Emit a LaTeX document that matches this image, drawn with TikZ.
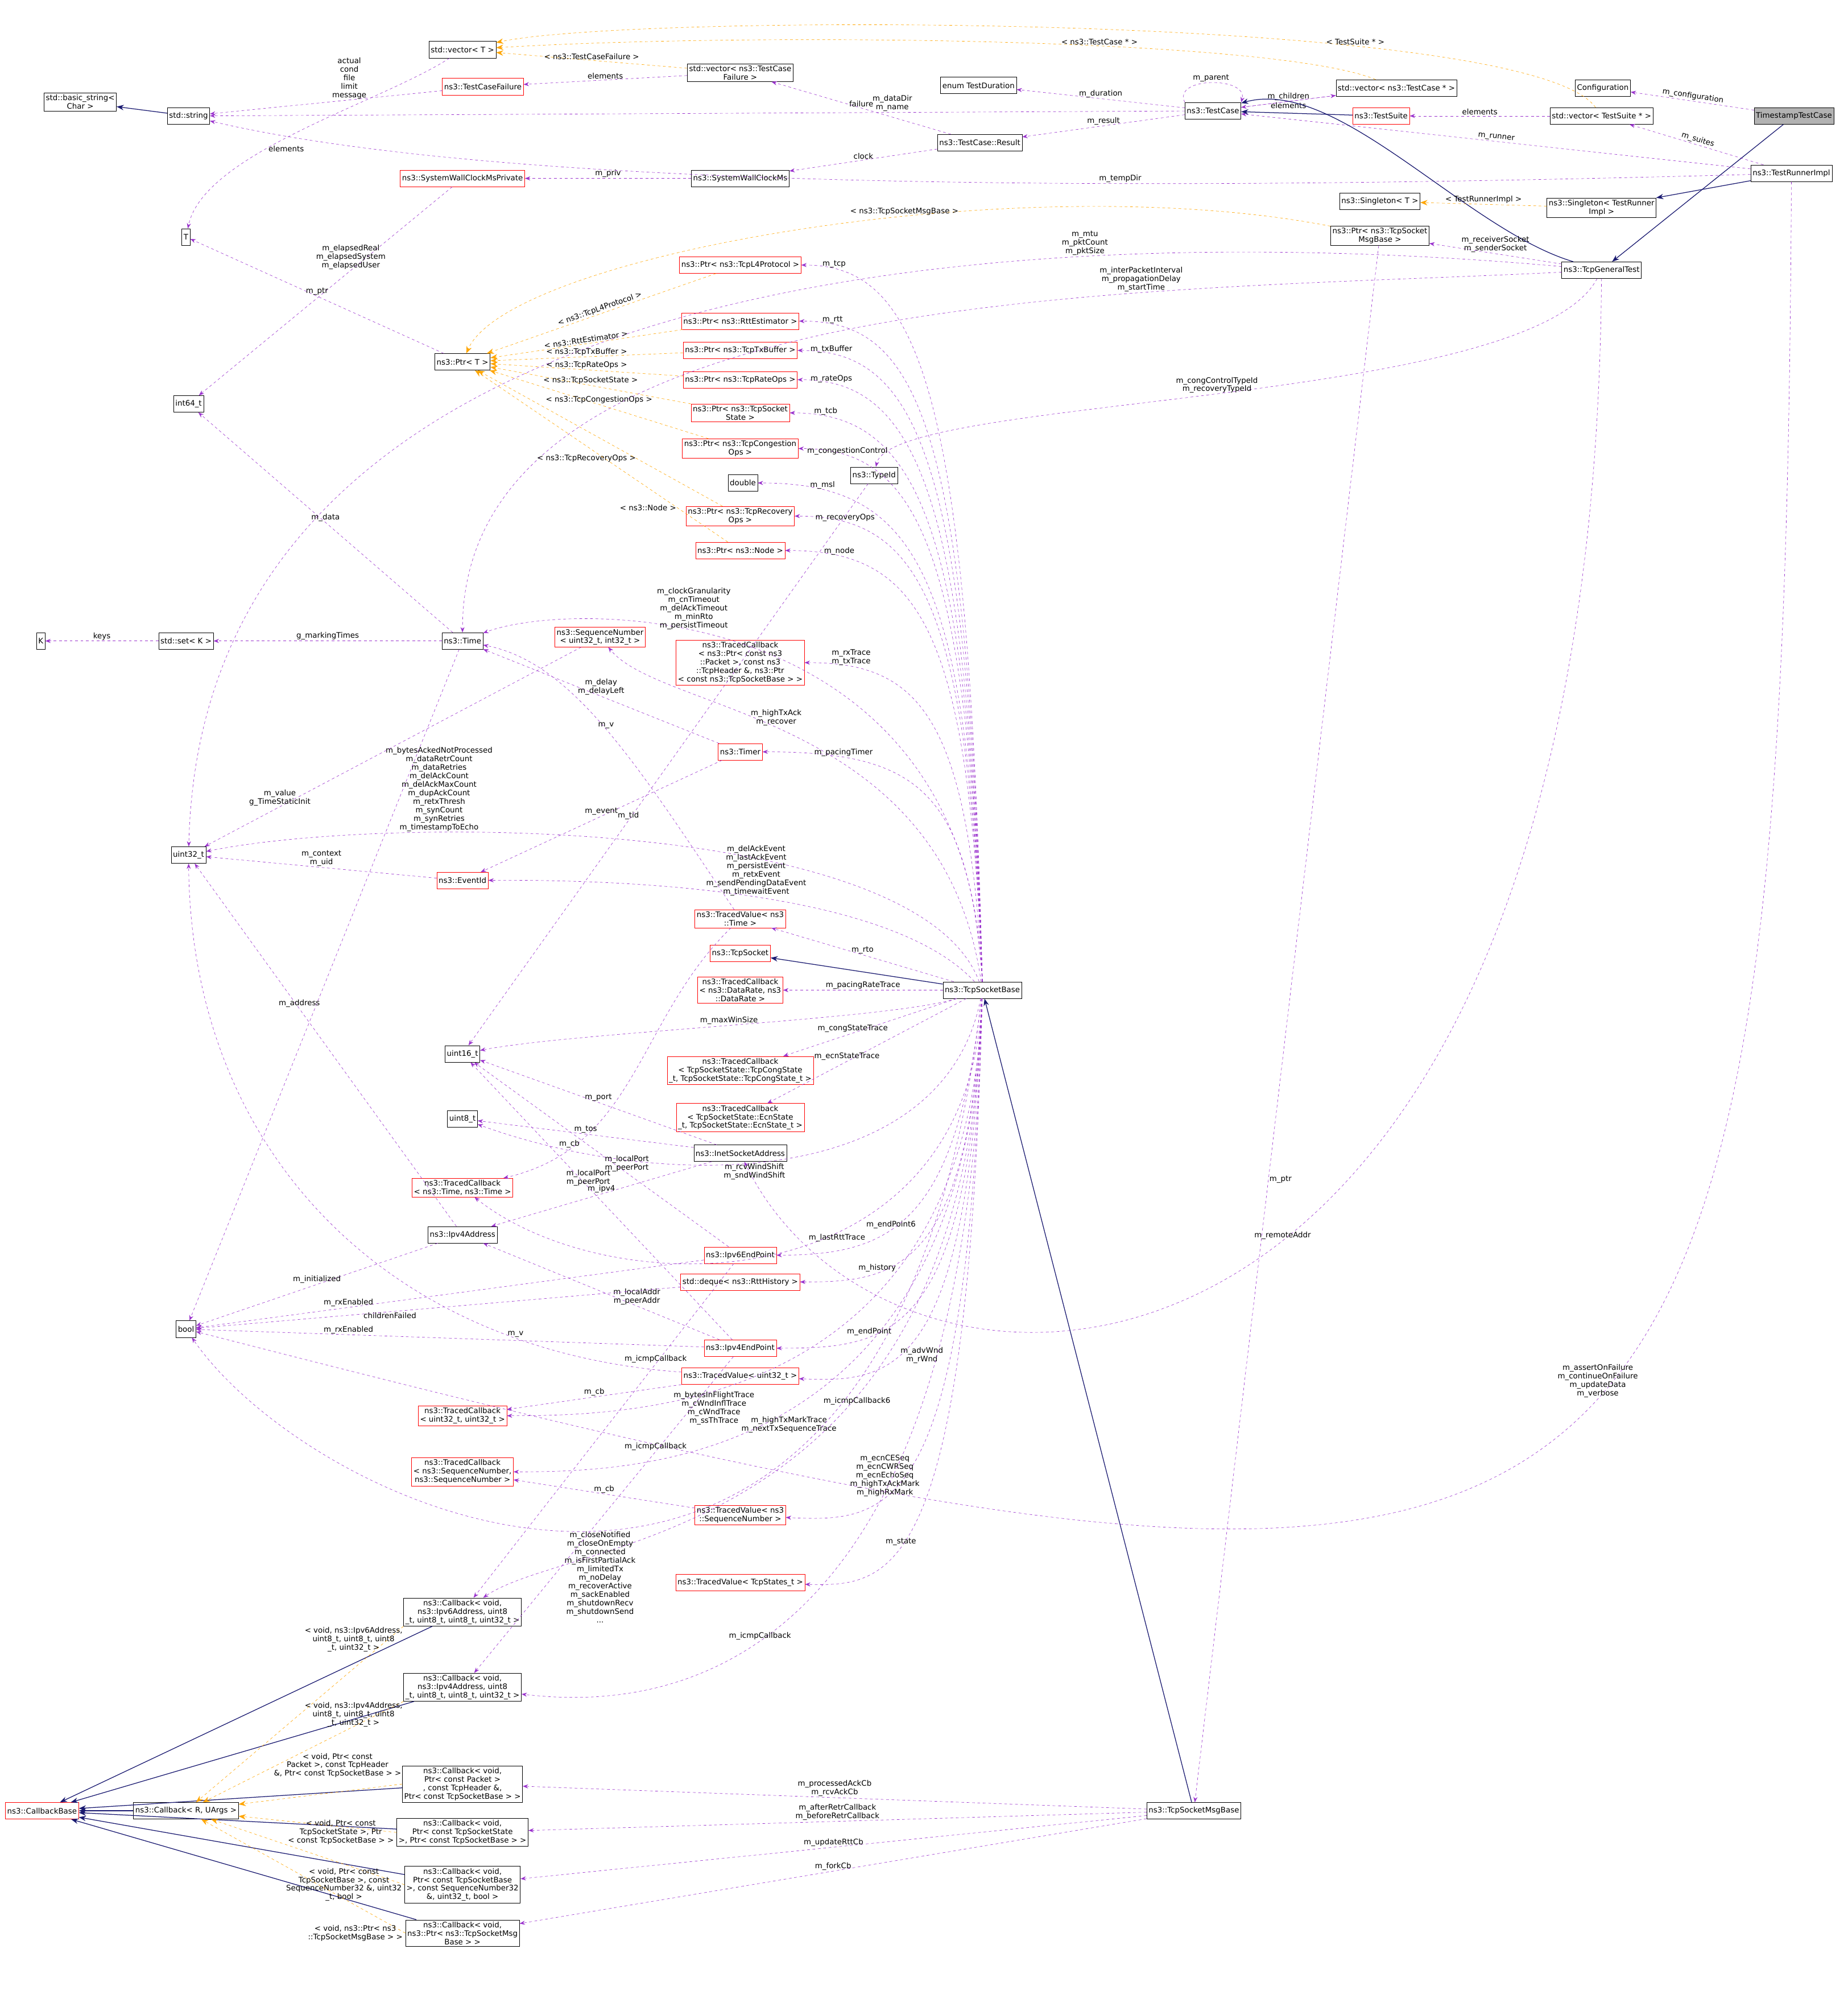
\documentclass[tikz,border=0pt]{standalone}
\usepackage{fontspec}
\setmainfont{DejaVu Sans}
\usetikzlibrary{positioning,arrows.meta}
\definecolor{mem}{HTML}{9A32CD}
\definecolor{inh}{HTML}{191970}
\definecolor{tpl}{HTML}{FFA500}
\tikzset{
  cls/.style={draw=black,fill=white,font=\fontsize{8.5}{9.5}\selectfont,align=center,inner sep=2pt,minimum height=0.65cm},
  bad/.style={cls,draw=red},
  lbl/.style={font=\fontsize{8.5}{9.5}\selectfont,align=center,inner sep=1pt},
  use/.style={draw=mem,dashed,-{Stealth[length=6pt]}},
  inherit/.style={draw=inh,thick,-{Stealth[length=8pt]}},
  tmpl/.style={draw=tpl,dashed,-{Stealth[length=8pt]}}
}
\begin{document}
\begin{tikzpicture}[x=0.05cm,y=-0.05cm]
  \useasboundingbox (0,0) rectangle (1450,1575);
  \path
  (1408,91) node[cls,fill=gray!60](TTC) {TimestampTestCase}
  (1258,69) node[cls](Config) {Configuration}
  (1257,91) node[cls](VSuite) {std::vector< TestSuite * >}
  (1406,136) node[cls](Runner) {ns3::TestRunnerImpl}
  (1084,91) node[bad](Suite) {ns3::TestSuite}
  (1096,69) node[cls](VCase) {std::vector< ns3::TestCase * >}
  (952,87) node[cls](TCase) {ns3::TestCase}
  (768,67) node[cls](Dur) {enum TestDuration}
  (581,57) node[cls](VFail) {std::vector< ns3::TestCase\\Failure >}
  (363,39) node[cls](VT) {std::vector< T >}
  (379,68) node[bad](Fail) {ns3::TestCaseFailure}
  (63,80) node[cls](BStr) {std::basic\_string<\\Char >}
  (148,91) node[cls](Str) {std::string}
  (769,112) node[cls](Result) {ns3::TestCase::Result}
  (363,140) node[bad](WallP) {ns3::SystemWallClockMsPrivate}
  (581,140) node[cls](Wall) {ns3::SystemWallClockMs}
  (1083,158) node[cls](Single) {ns3::Singleton< T >}
  (1257,163) node[cls](SingleR) {ns3::Singleton< TestRunner\\Impl >}
  (1083,185) node[cls](PtrMsg) {ns3::Ptr< ns3::TcpSocket\\MsgBase >}
  (1257,212) node[cls](General) {ns3::TcpGeneralTest}
  (146,186) node[cls](T) {T}
  (581,208) node[bad](PL4) {ns3::Ptr< ns3::TcpL4Protocol >}
  (581,252) node[bad](PRtt) {ns3::Ptr< ns3::RttEstimator >}
  (581,275) node[bad](PTx) {ns3::Ptr< ns3::TcpTxBuffer >}
  (363,284) node[cls](PtrT) {ns3::Ptr< T >}
  (581,298) node[bad](PRate) {ns3::Ptr< ns3::TcpRateOps >}
  (148,317) node[cls](I64) {int64\_t}
  (581,324) node[bad](PState) {ns3::Ptr< ns3::TcpSocket\\State >}
  (581,352) node[bad](PCong) {ns3::Ptr< ns3::TcpCongestion\\Ops >}
  (686,373) node[cls](TypeId) {ns3::TypeId}
  (583,379) node[cls](Dbl) {double}
  (581,405) node[bad](PRec) {ns3::Ptr< ns3::TcpRecovery\\Ops >}
  (581,432) node[bad](PNode) {ns3::Ptr< ns3::Node >}
  (32,503) node[cls](K) {K}
  (146,503) node[cls](SetK) {std::set< K >}
  (363,503) node[cls](Time) {ns3::Time}
  (471,500) node[bad](Seq) {ns3::SequenceNumber\\< uint32\_t, int32\_t >}
  (581,520) node[bad](TRx) {ns3::TracedCallback\\< ns3::Ptr< const ns3\\::Packet >, const ns3\\::TcpHeader \&, ns3::Ptr\\< const ns3::TcpSocketBase > >}
  (581,590) node[bad](Timer) {ns3::Timer}
  (148,671) node[cls](U32) {uint32\_t}
  (363,691) node[bad](Event) {ns3::EventId}
  (581,721) node[bad](TTime) {ns3::TracedValue< ns3\\::Time >}
  (581,748) node[bad](Sock) {ns3::TcpSocket}
  (771,777) node[cls](Base) {ns3::TcpSocketBase}
  (581,777) node[bad](TPace) {ns3::TracedCallback\\< ns3::DataRate, ns3\\::DataRate >}
  (363,827) node[cls](U16) {uint16\_t}
  (581,840) node[bad](TCong) {ns3::TracedCallback\\< TcpSocketState::TcpCongState\\\_t, TcpSocketState::TcpCongState\_t >}
  (363,878) node[cls](U8) {uint8\_t}
  (581,877) node[bad](TEcn) {ns3::TracedCallback\\< TcpSocketState::EcnState\\\_t, TcpSocketState::EcnState\_t >}
  (581,905) node[cls](Inet) {ns3::InetSocketAddress}
  (363,932) node[bad](TCbTime) {ns3::TracedCallback\\< ns3::Time, ns3::Time >}
  (363,969) node[cls](Ip4) {ns3::Ipv4Address}
  (581,985) node[bad](End6) {ns3::Ipv6EndPoint}
  (581,1006) node[bad](Deque) {std::deque< ns3::RttHistory >}
  (146,1043) node[cls](Bool) {bool}
  (581,1058) node[bad](End4) {ns3::Ipv4EndPoint}
  (581,1080) node[bad](TU32) {ns3::TracedValue< uint32\_t >}
  (363,1111) node[bad](TCbU32) {ns3::TracedCallback\\< uint32\_t, uint32\_t >}
  (363,1155) node[bad](TCbSeq) {ns3::TracedCallback\\< ns3::SequenceNumber,\\ns3::SequenceNumber >}
  (581,1189) node[bad](TSeq) {ns3::TracedValue< ns3\\::SequenceNumber >}
  (581,1242) node[bad](TStates) {ns3::TracedValue< TcpStates\_t >}
  (363,1265) node[cls](Cb6) {ns3::Callback< void,\\ns3::Ipv6Address, uint8\\\_t, uint8\_t, uint8\_t, uint32\_t >}
  (363,1324) node[cls](Cb4) {ns3::Callback< void,\\ns3::Ipv4Address, uint8\\\_t, uint8\_t, uint8\_t, uint32\_t >}
  (363,1400) node[cls](CbPkt) {ns3::Callback< void,\\Ptr< const Packet >\\, const TcpHeader \&,\\Ptr< const TcpSocketBase > >}
  (33,1421) node[bad](CbBase) {ns3::CallbackBase}
  (146,1421) node[cls](CbRU) {ns3::Callback< R, UArgs >}
  (363,1438) node[cls](CbState) {ns3::Callback< void,\\Ptr< const TcpSocketState\\>, Ptr< const TcpSocketBase > >}
  (363,1479) node[cls](CbBool) {ns3::Callback< void,\\Ptr< const TcpSocketBase\\>, const SequenceNumber32\\\&, uint32\_t, bool >}
  (363,1517) node[cls](CbMsg) {ns3::Callback< void,\\ns3::Ptr< ns3::TcpSocketMsg\\Base > >}
  (937,1421) node[cls](Msg) {ns3::TcpSocketMsgBase}
  ;

  % test framework
  \draw[use] (TTC) -- node[lbl,above,sloped]{m\_configuration} (Config);
  \draw[inherit] (TTC) -- (General);
  \draw[use] (Runner) -- node[lbl,above,sloped]{m\_suites} (VSuite);
  \draw[use] (Runner) -- node[lbl,above,sloped]{m\_runner} (TCase);
  \draw[inherit] (Runner) -- (SingleR);
  \draw[use] (Runner.south) .. controls (1400,1300) and (1300,1340) .. node[lbl,above,pos=0.45]{m\_assertOnFailure\\m\_continueOnFailure\\m\_updateData\\m\_verbose} (Bool);
  \draw[use] (Runner) .. controls (900,150) and (400,150) .. node[lbl,above,pos=0.35]{m\_tempDir} (Str);
  \draw[use] (VSuite) -- node[lbl,above]{elements} (Suite);
  \draw[tmpl] (VSuite) .. controls (1200,10) and (500,10) .. node[lbl,above,pos=0.3]{< TestSuite * >} (VT);
  \draw[inherit] (Suite) -- (TCase);
  \draw[use] (TCase) -- node[lbl,above]{m\_children} (VCase);
  \draw[use] (VCase) -- node[lbl,below]{elements} (TCase);
  \draw[use] (TCase.north west) .. controls (920,60) and (980,60) .. node[lbl,above]{m\_parent} (TCase.north east);
  \draw[use] (TCase) -- node[lbl,above]{m\_duration} (Dur);
  \draw[use] (TCase) -- node[lbl,above]{m\_result} (Result);
  \draw[use] (TCase) -- node[lbl,above,pos=0.3]{m\_dataDir\\m\_name} (Str);
  \draw[tmpl] (VCase) .. controls (1000,30) and (600,25) .. node[lbl,above,pos=0.4]{< ns3::TestCase * >} (VT);
  \draw[inherit] (General) .. controls (1150,180) and (1050,60) .. (TCase);
  \draw[use] (Result) -- node[lbl,above]{failure} (VFail);
  \draw[use] (Result) -- node[lbl,above]{clock} (Wall);
  \draw[use] (VFail) -- node[lbl,above]{elements} (Fail);
  \draw[tmpl] (VFail) -- node[lbl,above]{< ns3::TestCaseFailure >} (VT);
  \draw[use] (Fail) -- node[lbl,above,pos=0.4]{actual\\cond\\file\\limit\\message} (Str);
  \draw[inherit] (Str) -- (BStr);
  \draw[use] (VT) .. controls (300,80) and (160,120) .. node[lbl,right,pos=0.6]{elements} (T);
  \draw[use] (Wall) -- node[lbl,above]{m\_priv} (WallP);
  \draw[use] (WallP) -- node[lbl,above,pos=0.4]{m\_elapsedReal\\m\_elapsedSystem\\m\_elapsedUser} (I64);
  \draw[tmpl] (SingleR) -- node[lbl,above]{< TestRunnerImpl >} (Single);
  \draw[tmpl] (PtrMsg) .. controls (800,130) and (400,200) .. node[lbl,above,pos=0.4]{< ns3::TcpSocketMsgBase >} (PtrT);
  \draw[use] (PtrMsg) -- node[lbl,right,pos=0.6]{m\_ptr} (Msg);
  \draw[use] (General) -- node[lbl,above]{m\_receiverSocket\\m\_senderSocket} (PtrMsg);
  \draw[use] (General) .. controls (900,180) and (160,170) .. node[lbl,above,pos=0.3]{m\_mtu\\m\_pktCount\\m\_pktSize} (U32);
  \draw[use] (General) .. controls (900,230) and (363,220) .. node[lbl,above,pos=0.3]{m\_interPacketInterval\\m\_propagationDelay\\m\_startTime} (Time);
  \draw[use] (General) .. controls (1200,320) and (700,310) .. node[lbl,above,pos=0.5]{m\_congControlTypeId\\m\_recoveryTypeId} (TypeId);
  \draw[use] (General) .. controls (1250,1150) and (700,1150) .. node[lbl,above,pos=0.45]{m\_remoteAddr} (Inet);

  % pointers
  \draw[use] (PtrT) -- node[lbl,above]{m\_ptr} (T);
  \draw[tmpl] (PL4) -- node[lbl,above,sloped]{< ns3::TcpL4Protocol >} (PtrT);
  \draw[tmpl] (PRtt) -- node[lbl,above,sloped]{< ns3::RttEstimator >} (PtrT);
  \draw[tmpl] (PTx) -- node[lbl,above]{< ns3::TcpTxBuffer >} (PtrT);
  \draw[tmpl] (PRate) -- node[lbl,above]{< ns3::TcpRateOps >} (PtrT);
  \draw[tmpl] (PState) -- node[lbl,above]{< ns3::TcpSocketState >} (PtrT);
  \draw[tmpl] (PCong) -- node[lbl,above]{< ns3::TcpCongestionOps >} (PtrT);
  \draw[tmpl] (PRec) -- node[lbl,left,pos=0.35]{< ns3::TcpRecoveryOps >} (PtrT);
  \draw[tmpl] (PNode) -- node[lbl,left,pos=0.2]{< ns3::Node >} (PtrT);

  % socket base members
  \draw[use] (Base.north) .. controls (760,300) and (720,208) .. node[lbl,above,pos=0.9]{m\_tcp} (PL4.east);
  \draw[use] (Base.north) .. controls (760,330) and (720,252) .. node[lbl,above,pos=0.9]{m\_rtt} (PRtt.east);
  \draw[use] (Base.north) .. controls (760,360) and (720,275) .. node[lbl,above,pos=0.9]{m\_txBuffer} (PTx.east);
  \draw[use] (Base.north) .. controls (760,390) and (720,298) .. node[lbl,above,pos=0.9]{m\_rateOps} (PRate.east);
  \draw[use] (Base.north) .. controls (760,410) and (720,324) .. node[lbl,above,pos=0.9]{m\_tcb} (PState.east);
  \draw[use] (Base.north) .. controls (760,430) and (720,352) .. node[lbl,above,pos=0.85]{m\_congestionControl} (PCong.east);
  \draw[use] (Base.north) .. controls (760,450) and (720,379) .. node[lbl,above,pos=0.85]{m\_msl} (Dbl.east);
  \draw[use] (Base.north) .. controls (760,470) and (720,405) .. node[lbl,above,pos=0.85]{m\_recoveryOps} (PRec.east);
  \draw[use] (Base.north) .. controls (760,490) and (720,432) .. node[lbl,above,pos=0.85]{m\_node} (PNode.east);
  \draw[use] (Base.north) .. controls (760,470) and (450,470) .. node[lbl,above,pos=0.6]{m\_clockGranularity\\m\_cnTimeout\\m\_delAckTimeout\\m\_minRto\\m\_persistTimeout} (Time);
  \draw[use] (Base.north) .. controls (760,560) and (720,520) .. node[lbl,above,pos=0.85]{m\_rxTrace\\m\_txTrace} (TRx.east);
  \draw[use] (Base) .. controls (740,560) and (520,560) .. node[lbl,above,pos=0.55]{m\_highTxAck\\m\_recover} (Seq);
  \draw[use] (Base.north) .. controls (760,620) and (720,590) .. node[lbl,above,pos=0.8]{m\_pacingTimer} (Timer.east);
  \draw[use] (Base) .. controls (720,640) and (300,640) .. node[lbl,above,pos=0.7]{m\_bytesAckedNotProcessed\\m\_dataRetrCount\\m\_dataRetries\\m\_delAckCount\\m\_delAckMaxCount\\m\_dupAckCount\\m\_retxThresh\\m\_synCount\\m\_synRetries\\m\_timestampToEcho} (U32);
  \draw[use] (Base) .. controls (700,700) and (500,690) .. node[lbl,above,pos=0.5]{m\_delAckEvent\\m\_lastAckEvent\\m\_persistEvent\\m\_retxEvent\\m\_sendPendingDataEvent\\m\_timewaitEvent} (Event);
  \draw[use] (Base) -- node[lbl,above,pos=0.5]{m\_rto} (TTime);
  \draw[inherit] (Base) -- (Sock);
  \draw[use] (Base) -- node[lbl,above]{m\_pacingRateTrace} (TPace);
  \draw[use] (Base) .. controls (700,800) and (450,810) .. node[lbl,above,pos=0.5]{m\_maxWinSize} (U16);
  \draw[use] (Base) -- node[lbl,above,pos=0.6]{m\_congStateTrace} (TCong);
  \draw[use] (Base) -- node[lbl,above,pos=0.6]{m\_ecnStateTrace} (TEcn);
  \draw[use] (Base) .. controls (740,935) and (520,935) .. node[lbl,below,pos=0.55]{m\_rcvWindShift\\m\_sndWindShift} (U8);
  \draw[use] (Base) .. controls (750,960) and (700,985) .. node[lbl,above,pos=0.6]{m\_endPoint6} (End6);
  \draw[use] (Base) .. controls (760,1000) and (700,1006) .. node[lbl,above,pos=0.7]{m\_history} (Deque);
  \draw[use] (Base) .. controls (760,1025) and (480,1025) .. node[lbl,below,pos=0.4]{m\_lastRttTrace} (TCbTime);
  \draw[use] (Base) .. controls (760,1050) and (700,1058) .. node[lbl,above,pos=0.7]{m\_endPoint} (End4);
  \draw[use] (Base) .. controls (760,1080) and (700,1085) .. node[lbl,right,pos=0.6]{m\_advWnd\\m\_rWnd} (TU32);
  \draw[use] (Base) .. controls (760,1105) and (500,1111) .. node[lbl,below,pos=0.62]{m\_bytesInFlightTrace\\m\_cWndInflTrace\\m\_cWndTrace\\m\_ssThTrace} (TCbU32);
  \draw[use] (Base) .. controls (760,1150) and (500,1155) .. node[lbl,below,pos=0.5,yshift=-6pt]{m\_highTxMarkTrace\\m\_nextTxSequenceTrace} (TCbSeq);
  \draw[use] (Base) .. controls (760,1190) and (700,1195) .. node[lbl,above,pos=0.65]{m\_ecnCESeq\\m\_ecnCWRSeq\\m\_ecnEchoSeq\\m\_highTxAckMark\\m\_highRxMark} (TSeq);
  \draw[use] (Base) .. controls (760,1215) and (450,1205) .. node[lbl,below,pos=0.35]{m\_icmpCallback6} (Cb6);
  \draw[use] (Base) .. controls (760,1240) and (700,1245) .. node[lbl,above,pos=0.6]{m\_state} (TStates);
  \draw[use] (Base) .. controls (700,1400) and (249,1192) .. node[lbl,below,pos=0.5]{m\_closeNotified\\m\_closeOnEmpty\\m\_connected\\m\_isFirstPartialAck\\m\_limitedTx\\m\_noDelay\\m\_recoverActive\\m\_sackEnabled\\m\_shutdownRecv\\m\_shutdownSend\\...} (Bool);
  \draw[use] (Base) .. controls (760,1340) and (500,1340) .. node[lbl,above,pos=0.55]{m\_icmpCallback} (Cb4);

  % other members
  \draw[use] (SetK) -- node[lbl,above]{keys} (K);
  \draw[use] (Time) -- node[lbl,above]{g\_markingTimes} (SetK);
  \draw[use] (Time) -- node[lbl,above]{m\_data} (I64);
  \draw[use] (Time) -- (Bool);
  \draw[use] (Seq) -- node[lbl,above,pos=0.8]{m\_value\\g\_TimeStaticInit} (U32);
  \draw[use] (Timer) -- node[lbl,above]{m\_delay\\m\_delayLeft} (Time);
  \draw[use] (Timer) -- node[lbl,above]{m\_event} (Event);
  \draw[use] (Event) -- node[lbl,above]{m\_context\\m\_uid} (U32);
  \draw[use] (TTime) .. controls (500,600) and (450,520) .. node[lbl,above,pos=0.5]{m\_v} (Time);
  \draw[use] (TTime) .. controls (500,800) and (500,900) .. node[lbl,above,pos=0.8]{m\_cb} (TCbTime);
  \draw[use] (TypeId) -- node[lbl,above,pos=0.6]{m\_tid} (U16);
  \draw[use] (Ip4) -- node[lbl,above,pos=0.6]{m\_address} (U32);
  \draw[use] (Ip4) -- node[lbl,above]{m\_initialized} (Bool);
  \draw[use] (Inet) -- node[lbl,above]{m\_port} (U16);
  \draw[use] (Inet) -- node[lbl,above]{m\_ipv4} (Ip4);
  \draw[use] (Inet) -- node[lbl,above]{m\_tos} (U8);
  \draw[use] (End6) -- node[lbl,above,pos=0.4]{m\_localPort\\m\_peerPort} (U16);
  \draw[use] (End4) -- node[lbl,above,pos=0.55]{m\_localPort\\m\_peerPort} (U16);
  \draw[use] (End4) -- node[lbl,above,pos=0.35]{m\_localAddr\\m\_peerAddr} (Ip4);
  \draw[use] (End4) -- node[lbl,above,pos=0.7]{m\_rxEnabled} (Bool);
  \draw[use] (End6) -- node[lbl,above,pos=0.7]{m\_rxEnabled} (Bool);
  \draw[use] (Deque) -- node[lbl,below,pos=0.6]{childrenFailed} (Bool);
  \draw[use] (End6) -- node[lbl,above,pos=0.3]{m\_icmpCallback} (Cb6);
  \draw[use] (End4) -- node[lbl,above,pos=0.3]{m\_icmpCallback} (Cb4);
  \draw[use] (TU32) -- node[lbl,above]{m\_cb} (TCbU32);
  \draw[use] (TU32) .. controls (300,1060) and (150,900) .. node[lbl,above,pos=0.2]{m\_v} (U32);
  \draw[use] (TSeq) -- node[lbl,above]{m\_cb} (TCbSeq);

  % message base
  \draw[inherit] (Msg) -- (Base);
  \draw[use] (Msg) -- node[lbl,above]{m\_processedAckCb\\m\_rcvAckCb} (CbPkt);
  \draw[use] (Msg) -- node[lbl,above]{m\_afterRetrCallback\\m\_beforeRetrCallback} (CbState);
  \draw[use] (Msg) -- node[lbl,above]{m\_updateRttCb} (CbBool);
  \draw[use] (Msg) -- node[lbl,above]{m\_forkCb} (CbMsg);

  % callbacks
  \draw[inherit] (CbRU) -- (CbBase);
  \draw[inherit] (Cb6) -- (CbBase);
  \draw[inherit] (Cb4) -- (CbBase);
  \draw[inherit] (CbPkt) -- (CbBase);
  \draw[inherit] (CbState) -- (CbBase);
  \draw[inherit] (CbBool) -- (CbBase);
  \draw[inherit] (CbMsg) -- (CbBase);
  \draw[tmpl] (Cb6.south west) -- node[lbl,at start,anchor=north east]{< void, ns3::Ipv6Address,\\uint8\_t, uint8\_t, uint8\\\_t, uint32\_t >} (CbRU);
  \draw[tmpl] (Cb4.south west) -- node[lbl,at start,anchor=north east]{< void, ns3::Ipv4Address,\\uint8\_t, uint8\_t, uint8\\\_t, uint32\_t >} (CbRU);
  \draw[tmpl] (CbPkt.west) -- node[lbl,at start,anchor=south east,yshift=6pt]{< void, Ptr< const\\Packet >, const TcpHeader\\\&, Ptr< const TcpSocketBase > >} (CbRU);
  \draw[tmpl] (CbState.west) -- node[lbl,at start,anchor=east,xshift=-2pt]{< void, Ptr< const\\TcpSocketState >, Ptr\\< const TcpSocketBase > >} (CbRU);
  \draw[tmpl] (CbBool.west) -- node[lbl,at start,anchor=east,xshift=-2pt]{< void, Ptr< const\\TcpSocketBase >, const\\SequenceNumber32 \&, uint32\\\_t, bool >} (CbRU);
  \draw[tmpl] (CbMsg.west) -- node[lbl,at start,anchor=east,xshift=-2pt]{< void, ns3::Ptr< ns3\\::TcpSocketMsgBase > >} (CbRU);
\end{tikzpicture}
\end{document}
